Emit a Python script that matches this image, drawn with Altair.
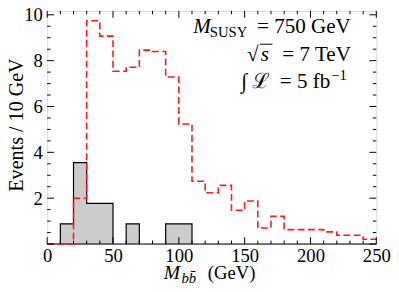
import altair as alt
import pandas as pd

# ---- data ----
bin_left = [0, 10, 20, 30, 40, 50, 60, 70, 80, 90, 100, 110, 120, 130, 140,
            150, 160, 170, 180, 190, 200, 210, 220, 230, 240]
signal = [0, 0.88, 3.55, 1.77, 1.77, 0, 0.88, 0, 0, 0.88, 0.88, 0, 0, 0, 0,
          0, 0, 0, 0, 0, 0, 0, 0, 0, 0]
background = [0, 0, 2.0, 9.74, 9.07, 7.54, 7.71, 8.46, 8.40, 7.29, 5.24, 2.74,
              2.24, 2.56, 1.47, 1.88, 0.70, 1.21, 0.63, 0.63, 0.63, 0.53,
              0.38, 0.38, 0.21]
x_end = 250
x_major = [0, 50, 100, 150, 200, 250]
x_minor = [10, 20, 30, 40, 60, 70, 80, 90, 110, 120, 130, 140, 160, 170, 180,
           190, 210, 220, 230, 240]
y_major = [0, 2, 4, 6, 8, 10]
y_minor = [0.5, 1, 1.5, 2.5, 3, 3.5, 4.5, 5, 5.5, 6.5, 7, 7.5, 8.5, 9, 9.5]
y_labels = [2, 4, 6, 8, 10]

FONT = "Liberation Serif"
W, H = 336, 238
OX, OY = 48, 8  # page offset of plot origin

hist = pd.DataFrame({
    "x": bin_left + [x_end],
    "sig": signal + [signal[-1]],
    "bkg": background + [background[-1]],
})

xs = alt.Scale(domain=[0, 250], nice=False, zero=False)
ys = alt.Scale(domain=[0, 10.17], nice=False, zero=False)

x_axis = alt.Axis(values=x_major, ticks=False, tickSize=0, domain=False, grid=False,
                  labelPadding=3, labelFont=FONT, labelFontSize=19, labelColor="black",
                  labelFlush=False, labelOverlap=False, labelBound=False, title=None)
y_axis = alt.Axis(values=y_labels, ticks=False, tickSize=0, domain=False, grid=False,
                  labelPadding=5, labelFont=FONT, labelFontSize=19, labelColor="black",
                  labelFlush=False, labelOverlap=False, labelBound=False, title=None)

X = alt.X("x:Q", scale=xs, axis=x_axis)

gray = alt.Chart(hist).mark_area(
    interpolate="step-after", fill="#cccccc", stroke="black", strokeWidth=1.2
).encode(x=X, y=alt.Y("sig:Q", scale=ys, axis=y_axis))

red = alt.Chart(hist).mark_line(
    interpolate="step-after", color="#ff1a1a", strokeDash=[7, 3.5], strokeWidth=1.6
).encode(x=X, y=alt.Y("bkg:Q", scale=ys, axis=y_axis))


def xticks(vals, length, top):
    df = pd.DataFrame({"x": vals})
    y1, y2 = (0, length) if top else (H, H - length)
    return alt.Chart(df).mark_rule(color="black", strokeWidth=1).encode(
        x=X, y=alt.value(y1), y2=alt.value(y2))


def yticks(vals, length, right):
    df = pd.DataFrame({"y": vals})
    x1, x2 = (W, W - length) if right else (0, length)
    return alt.Chart(df).mark_rule(color="black", strokeWidth=1).encode(
        y=alt.Y("y:Q", scale=ys, axis=y_axis), x=alt.value(x1), x2=alt.value(x2))


ticks = [
    xticks(x_major, 7, False), xticks(x_minor, 3.5, False),
    xticks(x_major, 7, True), xticks(x_minor, 3.5, True),
    yticks(y_major, 7, False), yticks(y_minor, 3.5, False),
    yticks(y_major, 7, True), yticks(y_minor, 3.5, True),
]


def txt(s, px, py, size=20, style="normal", align="left", angle=0):
    return alt.Chart(alt.Data(values=[{}])).mark_text(
        text=s, font=FONT, fontSize=size, fontStyle=style, align=align,
        baseline="alphabetic", color="black", angle=angle
    ).encode(x=alt.value(px - OX), y=alt.value(py - OY))


texts = [
    # annotation line 1
    txt("M", 197, 31, 21.5, "italic"),
    txt("SUSY", 214, 34.5, 15),
    txt("= 750 GeV", 358, 31, 21.5, align="right"),
    # line 2
    txt("√", 252, 59, 21.5),
    txt("s", 266, 59, 21.5, "italic"),
    txt("= 7 TeV", 358, 59, 21.5, align="right"),
    # line 3
    txt("∫", 246, 87, 21.5),
    txt("ℒ", 257, 87, 21.5),
    txt("= 5 fb", 337, 87, 21.5, align="right"),
    txt("−1", 338, 79, 15),
    # x title
    txt("M", 167, 282, 20, "italic"),
    txt("bb̄", 185, 286, 15, "italic"),
    txt("(GeV)", 212, 282, 19),
    # y title
    txt("Events / 10 GeV", 23, 124.5, 20.5, align="center", angle=270),
]

vinculum = alt.Chart(alt.Data(values=[{}])).mark_rule(color="black", strokeWidth=1).encode(
    x=alt.value(265 - OX), x2=alt.value(278 - OX), y=alt.value(42 - OY))

chart = alt.layer(gray, red, *ticks, *texts, vinculum).properties(
    width=W, height=H,
    padding={"left": 40, "top": 0, "right": 15, "bottom": 46},
    autosize=alt.AutoSizeParams(type="none"),
).configure_view(stroke="black", strokeWidth=1.2).configure(background="white")

chart.save("out.html", embed_options={"renderer": "svg", "actions": False})
